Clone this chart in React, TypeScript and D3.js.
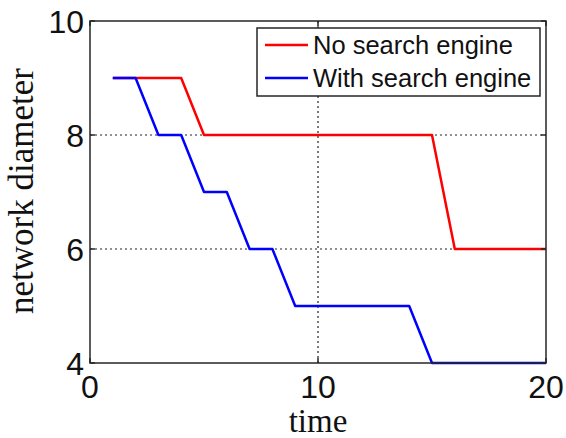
import React, { useEffect, useRef } from 'react'
import * as d3 from 'd3'

// values
const time = [1, 2, 3, 4, 5, 6, 7, 8, 9, 10, 11, 12, 13, 14, 15, 16, 17, 18, 19, 20]
const noSearch = [9, 9, 9, 9, 8, 8, 8, 8, 8, 8, 8, 8, 8, 8, 8, 6, 6, 6, 6, 6]
const withSearch = [9, 9, 8, 8, 7, 7, 6, 6, 5, 5, 5, 5, 5, 5, 4, 4, 4, 4, 4, 4]
const xTicks = [0, 10, 20]
const yTicks = [4, 6, 8, 10]
const seriesNames = ['No search engine', 'With search engine']
const seriesColors = ['#ff0000', '#0000ff']

export default function App() {
  const ref = useRef<SVGSVGElement>(null)

  useEffect(() => {
    const svg = d3.select(ref.current)
    svg.selectAll('*').remove()

    const margin = { left: 90, right: 20, top: 21, bottom: 75 }
    const width = 566
    const height = 438

    const x = d3.scaleLinear().domain([0, 20]).range([margin.left, width - margin.right])
    const y = d3.scaleLinear().domain([4, 10]).range([height - margin.bottom, margin.top])

    svg.append('rect')
      .attr('x', 0).attr('y', 0).attr('width', width).attr('height', height)
      .attr('fill', 'white')

    // grid (dotted)
    const grid = svg.append('g')
    grid.selectAll('.gx')
      .data(xTicks.slice(1, -1))
      .enter().append('line')
      .attr('x1', d => x(d)).attr('x2', d => x(d))
      .attr('y1', y(4)).attr('y2', y(10))
      .attr('stroke', '#222').attr('stroke-width', 1.2)
      .attr('stroke-dasharray', '2,3')
    grid.selectAll('.gy')
      .data(yTicks.slice(1, -1))
      .enter().append('line')
      .attr('x1', x(0)).attr('x2', x(20))
      .attr('y1', d => y(d)).attr('y2', d => y(d))
      .attr('stroke', '#222').attr('stroke-width', 1.2)
      .attr('stroke-dasharray', '2,3')

    // lines
    const series = [noSearch, withSearch]
    series.forEach((vals, i) => {
      const line = d3.line<number>()
        .x((d, j) => x(time[j]))
        .y(d => y(d))
      svg.append('path')
        .datum(vals)
        .attr('fill', 'none')
        .attr('stroke', seriesColors[i])
        .attr('stroke-width', 2.5)
        .attr('stroke-linejoin', 'round')
        .attr('d', line)
    })

    // box
    svg.append('rect')
      .attr('x', x(0)).attr('y', y(10))
      .attr('width', x(20) - x(0)).attr('height', y(4) - y(10))
      .attr('fill', 'none').attr('stroke', '#262626').attr('stroke-width', 1.5)

    // inward ticks
    const tk = 5
    xTicks.forEach(t => {
      svg.append('line').attr('x1', x(t)).attr('x2', x(t)).attr('y1', y(4)).attr('y2', y(4) - tk)
        .attr('stroke', '#262626').attr('stroke-width', 1.5)
      svg.append('line').attr('x1', x(t)).attr('x2', x(t)).attr('y1', y(10)).attr('y2', y(10) + tk)
        .attr('stroke', '#262626').attr('stroke-width', 1.5)
    })
    yTicks.forEach(t => {
      svg.append('line').attr('x1', x(0)).attr('x2', x(0) + tk).attr('y1', y(t)).attr('y2', y(t))
        .attr('stroke', '#262626').attr('stroke-width', 1.5)
      svg.append('line').attr('x1', x(20)).attr('x2', x(20) - tk).attr('y1', y(t)).attr('y2', y(t))
        .attr('stroke', '#262626').attr('stroke-width', 1.5)
    })

    // tick labels
    svg.selectAll('.xl')
      .data(xTicks)
      .enter().append('text')
      .attr('x', d => x(d)).attr('y', 398)
      .attr('text-anchor', 'middle')
      .attr('font-family', 'Liberation Sans, Arial, sans-serif')
      .attr('font-size', 32)
      .attr('fill', '#111')
      .text(d => d)
    svg.selectAll('.yl')
      .data(yTicks)
      .enter().append('text')
      .attr('x', 84).attr('y', d => y(d) + 11.5)
      .attr('text-anchor', 'end')
      .attr('font-family', 'Liberation Sans, Arial, sans-serif')
      .attr('font-size', 32)
      .attr('fill', '#111')
      .text(d => d)

    // axis titles
    svg.append('text')
      .attr('x', x(10)).attr('y', 432)
      .attr('text-anchor', 'middle')
      .attr('font-family', 'Liberation Serif, Times New Roman, serif')
      .attr('font-size', 33)
      .attr('fill', '#111')
      .text('time')
    svg.append('text')
      .attr('transform', 'translate(33,' + 191 + ') rotate(-90)')
      .attr('text-anchor', 'middle')
      .attr('font-family', 'Liberation Serif, Times New Roman, serif')
      .attr('font-size', 35)
      .attr('fill', '#111')
      .text('network diameter')

    // legend
    const lg = svg.append('g')
    lg.append('rect')
      .attr('x', 257).attr('y', 28).attr('width', 283).attr('height', 68)
      .attr('fill', 'white').attr('stroke', '#262626').attr('stroke-width', 1.5)
    seriesNames.forEach((name, i) => {
      const cy = 45 + i * 33
      lg.append('line')
        .attr('x1', 265).attr('x2', 308).attr('y1', cy).attr('y2', cy)
        .attr('stroke', seriesColors[i]).attr('stroke-width', 2.5)
      lg.append('text')
        .attr('x', 313).attr('y', cy + 9)
        .attr('font-family', 'Liberation Sans, Arial, sans-serif')
        .attr('font-size', 25.5)
        .attr('fill', '#111')
        .text(name)
    })
  }, [])

  return (
    <svg ref={ref} width={566} height={438}
      style={{ position: 'absolute', left: 0, top: 0 }} />
  )
}
